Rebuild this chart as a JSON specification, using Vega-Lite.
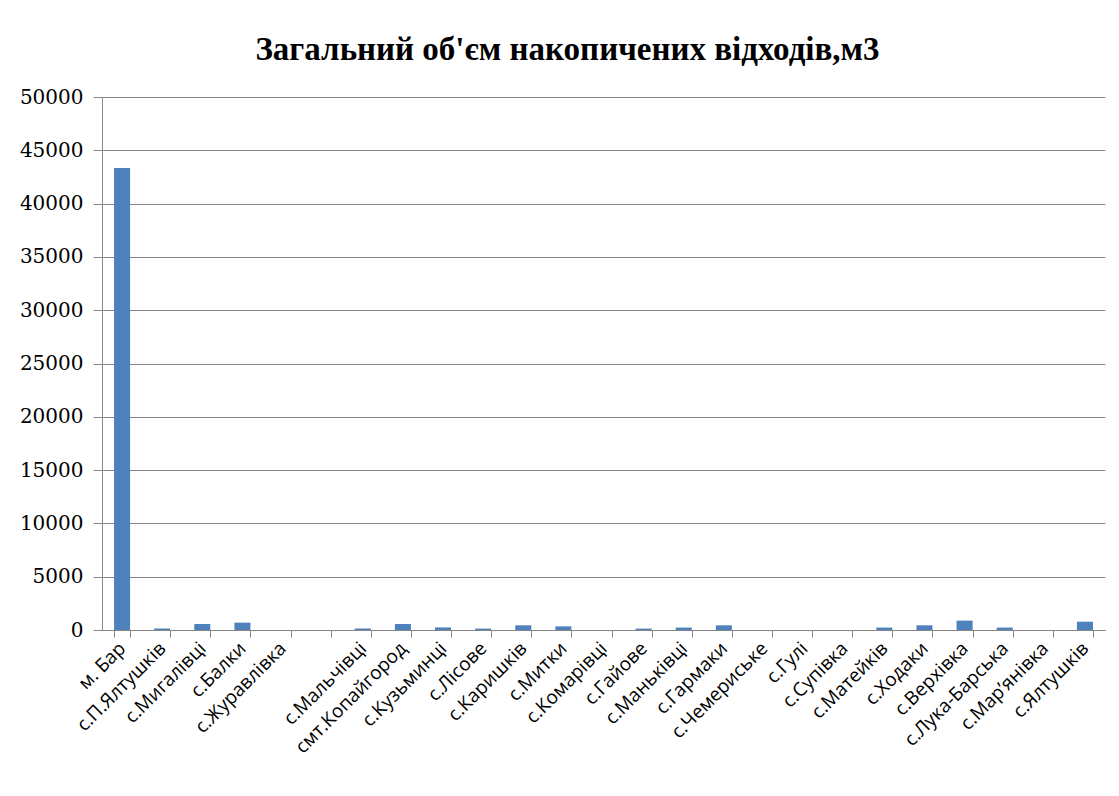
{
  "$schema": "https://vega.github.io/schema/vega-lite/v6.json",
  "width": 1003,
  "height": 533,
  "autosize": {"type": "none"},
  "padding": {"left": 102, "top": 97, "right": 14, "bottom": 166},
  "background": "white",
  "title": {
    "text": "Загальний об'єм накопичених відходів,м3",
    "font": "Liberation Serif",
    "fontSize": 33,
    "fontWeight": "bold",
    "color": "#000000",
    "anchor": "middle",
    "dx": -36,
    "offset": 20
  },
  "data": {
    "values": [
      {"name": "м. Бар", "v": 43330},
      {"name": "с.П.Ялтушків", "v": 130},
      {"name": "с.Мигалівці", "v": 560},
      {"name": "с.Балки", "v": 690},
      {"name": "с.Журавлівка", "v": 0},
      {"name": " ", "v": 0},
      {"name": "с.Мальчівці", "v": 130},
      {"name": "смт.Копайгород", "v": 560},
      {"name": "с.Кузьминці", "v": 240},
      {"name": "с.Лісове", "v": 130},
      {"name": "с.Каришків", "v": 440},
      {"name": "с.Митки", "v": 340},
      {"name": "с.Комарівці", "v": 0},
      {"name": "с.Гайове", "v": 130},
      {"name": "с.Маньківці", "v": 230},
      {"name": "с.Гармаки", "v": 440},
      {"name": "с.Чемериське", "v": 0},
      {"name": "с.Гулі", "v": 0},
      {"name": "с.Супівка", "v": 0},
      {"name": "с.Матейків", "v": 230},
      {"name": "с.Ходаки", "v": 440},
      {"name": "с.Верхівка", "v": 880},
      {"name": "с.Лука-Барська", "v": 230},
      {"name": "с.Мар’янівка", "v": 0},
      {"name": "с.Ялтушків", "v": 780}
    ]
  },
  "mark": {"type": "bar", "color": "#4F81BD"},
  "encoding": {
    "x": {
      "field": "name",
      "type": "nominal",
      "sort": null,
      "scale": {"paddingInner": 0.6, "paddingOuter": 0.3},
      "axis": {
        "title": null,
        "labelAngle": -45,
        "labelAlign": "right",
        "labelBaseline": "middle",
        "labelFont": "Open Sans",
        "labelFontSize": 19,
        "labelColor": "#000000",
        "labelPadding": 8,
        "labelOverlap": false,
        "tickBand": "extent",
        "tickSize": 7,
        "tickColor": "#868686",
        "domainColor": "#868686",
        "grid": false
      }
    },
    "y": {
      "field": "v",
      "type": "quantitative",
      "scale": {"domain": [0, 50000], "nice": false},
      "axis": {
        "title": null,
        "values": [0, 5000, 10000, 15000, 20000, 25000, 30000, 35000, 40000, 45000, 50000],
        "format": "d",
        "labelFont": "DejaVu Serif",
        "labelFontSize": 20,
        "labelColor": "#000000",
        "labelPadding": 10,
        "tickSize": 9,
        "tickColor": "#868686",
        "domainColor": "#868686",
        "gridColor": "#868686",
        "grid": true
      }
    }
  },
  "config": {
    "view": {"stroke": null}
  }
}
